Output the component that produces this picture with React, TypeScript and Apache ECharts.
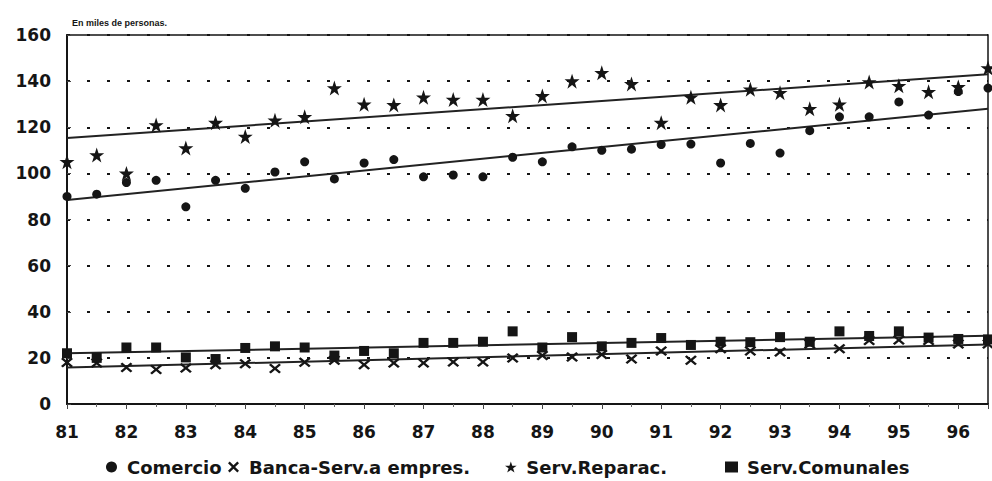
import React, { useEffect, useRef } from "react";
import * as echarts from "echarts";

const halfYears = [
  81, 81.5, 82, 82.5, 83, 83.5, 84, 84.5, 85, 85.5, 86, 86.5, 87, 87.5, 88, 88.5,
  89, 89.5, 90, 90.5, 91, 91.5, 92, 92.5, 93, 93.5, 94, 94.5, 95, 95.5, 96, 96.5,
];

const comercio = [
  90, 91, 96, 97, 85.5, 97, 93.5, 100.6, 105, 97.6, 104.5, 106, 98.5, 99.3, 98.5, 107,
  105, 111.5, 110, 110.5, 112.5, 112.7, 104.5, 113, 108.8, 118.5, 124.5, 124.5, 131, 125.3, 135.5, 137,
];

const banca = [
  18, 17.8, 15.8, 15, 15.6, 17, 17.5, 15.4, 18.1, 19, 17, 17.8, 17.8, 18.2, 18.2, 20,
  21, 20.4, 21.5, 19.5, 23, 19, 24, 23, 22.5, 26, 24, 27.5, 27.8, 27.5, 26, 26,
];

const reparac = [
  105, 108, 100, 121, 111, 122, 116, 123, 124.5, 137, 130, 129.7, 133, 132, 132, 125,
  133.6, 140, 143.6, 138.8, 122, 133, 129.7, 136.5, 135, 128, 130, 139.6, 138, 135.4, 137.5, 145.7,
];

const comunales = [
  22, 20, 24.5, 24.5, 20.2, 19.5, 24.3, 25, 24.5, 21, 23, 22, 26.5, 26.5, 27, 31.5,
  24.5, 29, 25, 26.5, 28.6, 25.6, 27, 26.8, 29, 27, 31.5, 29.5, 31.5, 28.8, 28.2, 28,
];

// trend lines: [start year, value], [end year, value]
const trendComercio = [[81, 88.5], [96.5, 128]];
const trendBanca = [[81, 15.8], [96.5, 25.8]];
const trendReparac = [[81, 115.3], [96.5, 143]];
const trendComunales = [[81, 22], [96.5, 29.6]];

const yTicks = [0, 20, 40, 60, 80, 100, 120, 140, 160];
const seriesNames = ["Comercio", "Banca-Serv.a empres.", "Serv.Reparac.", "Serv.Comunales"];
const subtitle = "En miles de personas.";

const STAR =
  "path://M50,0L61.8,35.1L98.8,35.1L68.9,56.8L80.3,91.9L50,70.2L19.7,91.9L31.1,56.8L1.2,35.1L38.2,35.1Z";
const CROSS =
  "path://M0,1.5L1.5,0L5,3.5L8.5,0L10,1.5L6.5,5L10,8.5L8.5,10L5,6.5L1.5,10L0,8.5L3.5,5Z";

const INK = "#151515";
const legendLefts = [106, 228, 505, 725];

export default function App() {
  const ref = useRef<HTMLDivElement>(null);

  useEffect(() => {
    if (!ref.current) return;
    const chart = echarts.init(ref.current, null, { renderer: "svg" });
    const pair = (vals: number[]) => halfYears.map((x, i) => [x, vals[i]]);
    const trend = (d: number[][]) => ({
      type: "line",
      data: d,
      showSymbol: false,
      symbol: "none",
      silent: true,
      lineStyle: { color: "#222", width: 2 },
      z: 1,
    });
    const scatter = (name: string, vals: number[], symbol: string, size: any) => ({
      type: "scatter",
      name,
      data: pair(vals),
      symbol,
      symbolSize: size,
      itemStyle: { color: INK, opacity: 1 },
      z: 3,
    });

    chart.setOption({
      animation: false,
      backgroundColor: "#ffffff",
      title: {
        text: subtitle,
        left: 67,
        top: 13,
        textStyle: {
          fontFamily: "Liberation Sans",
          fontSize: 9,
          fontWeight: "bold",
          color: INK,
        },
      },
      grid: {
        left: 67,
        right: 4,
        top: 35,
        bottom: 77,
        show: true,
        borderColor: INK,
        borderWidth: 1.5,
        backgroundColor: "transparent",
      },
      legend: seriesNames.map((n, i) => ({
        data: [n],
        left: legendLefts[i],
        top: 458,
        padding: 0,
        itemWidth: 13,
        itemHeight: 11,
        textStyle: {
          fontFamily: "DejaVu Sans",
          fontWeight: "bold",
          fontSize: 18,
          color: INK,
          padding: [0, 0, 0, 4],
        },
      })),
      xAxis: {
        type: "value",
        min: 81,
        max: 96.5,
        interval: 1,
        axisLine: { show: true, lineStyle: { color: INK, width: 2 } },
        axisTick: { show: true, length: 5, lineStyle: { color: "#444", width: 1 } },
        minorTick: { show: true, splitNumber: 2, length: 3, lineStyle: { color: "#666" } },
        splitLine: { show: false },
        axisLabel: {
          margin: 19,
          fontFamily: "DejaVu Sans",
          fontWeight: "bold",
          fontSize: 17,
          color: INK,
          showMaxLabel: false,
          formatter: (v: number) => (Number.isInteger(v) ? String(v) : ""),
        },
      },
      yAxis: {
        type: "value",
        min: yTicks[0],
        max: yTicks[yTicks.length - 1],
        interval: 20,
        axisLine: { show: true, lineStyle: { color: INK, width: 2 } },
        axisTick: { show: true, inside: true, length: 4, lineStyle: { color: "#444" } },
        splitLine: {
          show: true,
          lineStyle: { color: INK, width: 2, type: [3, 17] },
        },
        axisLabel: {
          margin: 16,
          fontFamily: "DejaVu Sans",
          fontWeight: "bold",
          fontSize: 17,
          color: INK,
        },
      },
      series: [
        trend(trendReparac),
        trend(trendComercio),
        trend(trendComunales),
        trend(trendBanca),
        scatter(seriesNames[0], comercio, "circle", 9),
        scatter(seriesNames[1], banca, CROSS, [12, 10]),
        scatter(seriesNames[2], reparac, STAR, 15),
        scatter(seriesNames[3], comunales, "rect", [10, 10]),
      ],
    });
    return () => chart.dispose();
  }, []);

  return (
    <div
      ref={ref}
      style={{ position: "fixed", left: 0, top: 0, width: 992, height: 481, background: "#fff" }}
    />
  );
}
